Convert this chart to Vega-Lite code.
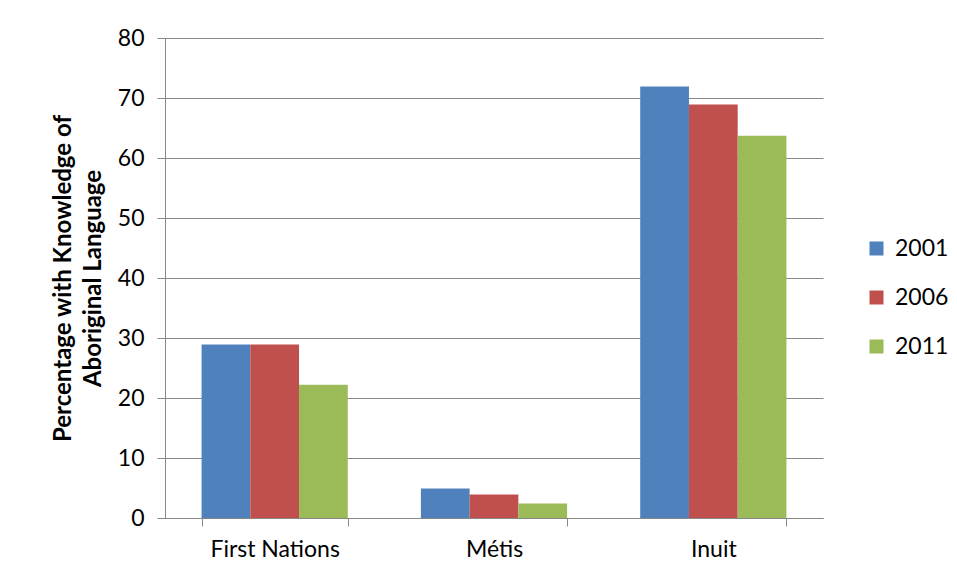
{
  "$schema": "https://vega.github.io/schema/vega-lite/v6.json",
  "autosize": "none",
  "width": 658,
  "height": 480,
  "padding": {"left": 165, "top": 38, "right": 134, "bottom": 66},
  "background": "white",
  "data": {
    "values": [
      {"group": "First Nations", "year": "2001", "pct": 28.9},
      {"group": "First Nations", "year": "2006", "pct": 28.9},
      {"group": "First Nations", "year": "2011", "pct": 22.2},
      {"group": "Métis", "year": "2001", "pct": 4.9},
      {"group": "Métis", "year": "2006", "pct": 3.9},
      {"group": "Métis", "year": "2011", "pct": 2.4},
      {"group": "Inuit", "year": "2001", "pct": 71.9},
      {"group": "Inuit", "year": "2006", "pct": 68.9},
      {"group": "Inuit", "year": "2011", "pct": 63.7}
    ]
  },
  "mark": {"type": "bar"},
  "encoding": {
    "x": {
      "field": "group",
      "type": "nominal",
      "sort": ["First Nations", "Métis", "Inuit"],
      "scale": {"paddingInner": 0.3333, "paddingOuter": 0.1667},
      "axis": {
        "title": null,
        "labelAngle": 0,
        "labelFont": "Lato",
        "labelFontSize": 23,
        "labelColor": "#000",
        "labelPadding": 12,
        "tickBand": "extent",
        "tickSize": 8,
        "tickColor": "#888",
        "domainColor": "#888",
        "grid": false
      }
    },
    "xOffset": {"field": "year", "type": "nominal", "scale": {"paddingInner": 0, "paddingOuter": 0}},
    "y": {
      "field": "pct",
      "type": "quantitative",
      "scale": {"domain": [0, 80], "nice": false},
      "axis": {
        "values": [0, 10, 20, 30, 40, 50, 60, 70, 80],
        "title": ["Percentage with Knowledge of", "Aboriginal Language"],
        "titleFont": "Lato",
        "titleFontSize": 24,
        "titleFontWeight": "bold",
        "titleColor": "#000",
        "titlePadding": 12,
        "titleLineHeight": 30,
        "labelFont": "Lato",
        "labelFontSize": 23,
        "labelColor": "#000",
        "labelPadding": 13,
        "tickSize": 8,
        "tickColor": "#888",
        "domainColor": "#888",
        "gridColor": "#888",
        "gridWidth": 1
      }
    },
    "color": {
      "field": "year",
      "type": "nominal",
      "scale": {"domain": ["2001", "2006", "2011"], "range": ["#4F81BD", "#C0504D", "#9BBB59"]},
      "legend": {
        "title": null,
        "orient": "none",
        "legendX": 700,
        "legendY": 199,
        "symbolType": "square",
        "symbolSize": 196,
        "symbolStrokeWidth": 0,
        "labelFont": "Lato",
        "labelFontSize": 23,
        "labelColor": "#000",
        "rowPadding": 25,
        "labelOffset": 7
      }
    }
  },
  "config": {"view": {"stroke": null}}
}
